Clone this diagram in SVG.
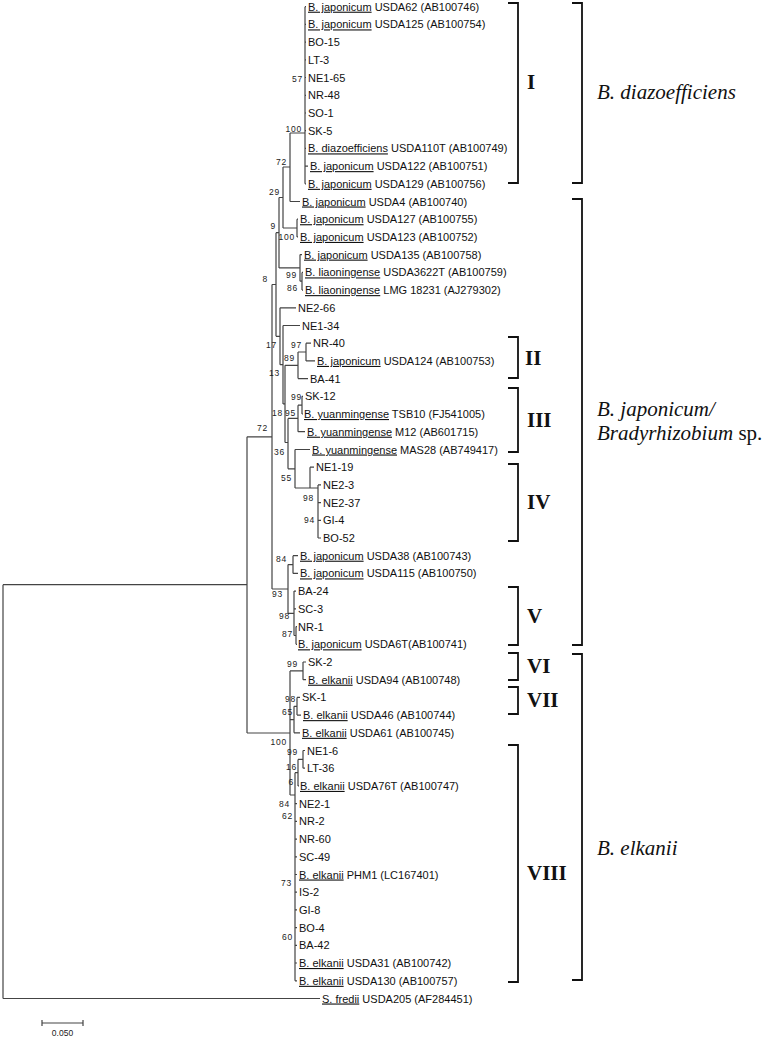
<svg xmlns="http://www.w3.org/2000/svg" width="767" height="1038" viewBox="0 0 767 1038">
<style>
.leaf{font-family:"Liberation Sans",Arial,sans-serif;font-size:11px;fill:#111}
.u{text-decoration:underline}
.bs{font-family:"Liberation Sans",Arial,sans-serif;font-size:8.5px;fill:#222;text-anchor:end;letter-spacing:0.8px}
.tree{fill:none;stroke:#444;stroke-width:1.2}
.br{fill:none;stroke:#111;stroke-width:1.8}
.rn{font-family:"Liberation Serif","Times New Roman",serif;font-size:21px;font-weight:bold;fill:#111}
.sp{font-family:"Liberation Serif","Times New Roman",serif;font-size:21px;fill:#111}
.sc{font-family:"Liberation Sans",Arial,sans-serif;font-size:8.5px;fill:#222;text-anchor:middle}
</style>
<rect width="767" height="1038" fill="#fff"/>
<g id="connectors">
<path class="tree" d="M3 584.7V998.5M3 584.7H247M3 998.5H320
M247 436.8V733M247 436.8H272M247 733H290
M272 284.5V589M272 284.5H276M272 589H288
M276 232.7V336.3M276 232.7H279M276 336.3H280
M279 197.5V267.9M279 197.5H283M279 267.9H300
M283 167V228M283 167H290M283 228H297
M290 133V201.5M290 133H305M290 201.5H300
M305 6.7V183.8M305 6.7H306M305 24.4H306M305 42.1H306M305 59.8H306M305 77.5H306M305 95.3H306M305 113H306M305 130.7H306M305 148.4H306M305 166.1H308M305 183.8H306
M297 219.2V236.9M297 219.2H298M297 236.9H298
M300 254.6V281.2M300 254.6H302M300 281.2H302M302 272.4V290.1M302 272.4H303M302 290.1H303
M280 307.8V364.7M280 307.8H296M280 364.7H283
M283 325.5V403.9M283 325.5H300M283 403.9H285
M285 365.3V442.5M285 365.3H298M285 442.5H288
M298 352V378.6M298 352H306M298 378.6H308
M306 343.2V360.9M306 343.2H311M306 360.9H315
M288 418.4V468.8M288 418.4H298M288 468.8H295
M298 405.2V431.7M298 405.2H302M298 431.7H305
M302 396.3V414M302 396.3H303M302 414H303
M295 449.5V488M295 449.5H310M295 488H318
M310 467.2V488M310 467.2H314
M318 484.9V538M318 484.9H321M318 502.6H321M318 520.3H321M318 538H321
M288 564.6V613.3M288 564.6H293M288 613.3H294
M293 555.7V573.4M293 555.7H298M293 573.4H298
M294 591.1V635.5M294 591.1H296M294 608.8H296M294 635.5H296
M296 626.6V644.3M296 626.6H297M296 644.3H297
M290 670.9V795M290 670.9H303M290 719.6H294M290 795H295
M303 662V679.7M303 662H306M303 679.7H306
M294 706.3V732.8M294 706.3H297M294 732.8H300
M297 697.4V715.1M297 697.4H300M297 715.1H301
M295 772.7V980.8M295 772.7H298M295 803.7H297M295 821.4H297M295 839.1H297M295 856.8H297M295 874.5H297M295 892.2H297M295 909.9H297M295 927.6H297M295 945.3H297M295 963H297M295 980.8H297
M298 759.4V785.9M298 759.4H303M298 785.9H299
M303 750.5V768.2M303 750.5H305M303 768.2H305"/>
</g>
<g id="bootstrap">
<text class="bs" x="303" y="82">57</text>
<text class="bs" x="302" y="132">100</text>
<text class="bs" x="287" y="165">72</text>
<text class="bs" x="280" y="195">29</text>
<text class="bs" x="276" y="229">9</text>
<text class="bs" x="295" y="240">100</text>
<text class="bs" x="297" y="278">99</text>
<text class="bs" x="298" y="291">86</text>
<text class="bs" x="268" y="282">8</text>
<text class="bs" x="277" y="348">17</text>
<text class="bs" x="302" y="348">97</text>
<text class="bs" x="295" y="361">89</text>
<text class="bs" x="280" y="376">13</text>
<text class="bs" x="302" y="400">99</text>
<text class="bs" x="283" y="416">18</text>
<text class="bs" x="296" y="416">95</text>
<text class="bs" x="268" y="431">72</text>
<text class="bs" x="285" y="455">36</text>
<text class="bs" x="292" y="481">55</text>
<text class="bs" x="314" y="501">98</text>
<text class="bs" x="315" y="523">94</text>
<text class="bs" x="287" y="562">84</text>
<text class="bs" x="283" y="597">93</text>
<text class="bs" x="290" y="619">98</text>
<text class="bs" x="293" y="637">87</text>
<text class="bs" x="298" y="667">99</text>
<text class="bs" x="296" y="702">98</text>
<text class="bs" x="293" y="715">65</text>
<text class="bs" x="287" y="745">100</text>
<text class="bs" x="298" y="755">99</text>
<text class="bs" x="297" y="770">16</text>
<text class="bs" x="294" y="785">6</text>
<text class="bs" x="290" y="807">84</text>
<text class="bs" x="293" y="819">62</text>
<text class="bs" x="292" y="886">73</text>
<text class="bs" x="293" y="940">60</text>
</g>
<g id="leaves">
<g id="n-USDA62"><text class="leaf" x="308" y="10.7"><tspan class="u">B. japonicum</tspan> USDA62 (AB100746)</text></g>
<g id="n-USDA125"><text class="leaf" x="308" y="28.4"><tspan class="u">B. japonicum</tspan> USDA125 (AB100754)</text></g>
<g id="n-BO-15"><text class="leaf" x="308" y="46.1">BO-15</text></g>
<g id="n-LT-3"><text class="leaf" x="308" y="63.8">LT-3</text></g>
<g id="n-NE1-65"><text class="leaf" x="308" y="81.5">NE1-65</text></g>
<g id="n-NR-48"><text class="leaf" x="308" y="99.3">NR-48</text></g>
<g id="n-SO-1"><text class="leaf" x="308" y="117">SO-1</text></g>
<g id="n-SK-5"><text class="leaf" x="308" y="134.7">SK-5</text></g>
<g id="n-USDA110T"><text class="leaf" x="308" y="152.4"><tspan class="u">B. diazoefficiens</tspan> USDA110T (AB100749)</text></g>
<g id="n-USDA122"><text class="leaf" x="310" y="170.1"><tspan class="u">B. japonicum</tspan> USDA122 (AB100751)</text></g>
<g id="n-USDA129"><text class="leaf" x="308" y="187.8"><tspan class="u">B. japonicum</tspan> USDA129 (AB100756)</text></g>
<g id="n-USDA4"><text class="leaf" x="302" y="205.5"><tspan class="u">B. japonicum</tspan> USDA4 (AB100740)</text></g>
<g id="n-USDA127"><text class="leaf" x="300" y="223.2"><tspan class="u">B. japonicum</tspan> USDA127 (AB100755)</text></g>
<g id="n-USDA123"><text class="leaf" x="300" y="240.9"><tspan class="u">B. japonicum</tspan> USDA123 (AB100752)</text></g>
<g id="n-USDA135"><text class="leaf" x="304" y="258.6"><tspan class="u">B. japonicum</tspan> USDA135 (AB100758)</text></g>
<g id="n-USDA3622T"><text class="leaf" x="305" y="276.4"><tspan class="u">B. liaoningense</tspan> USDA3622T (AB100759)</text></g>
<g id="n-LMG18231"><text class="leaf" x="305" y="294.1"><tspan class="u">B. liaoningense</tspan> LMG 18231 (AJ279302)</text></g>
<g id="n-NE2-66"><text class="leaf" x="298" y="311.8">NE2-66</text></g>
<g id="n-NE1-34"><text class="leaf" x="302" y="329.5">NE1-34</text></g>
<g id="n-NR-40"><text class="leaf" x="313" y="347.2">NR-40</text></g>
<g id="n-USDA124"><text class="leaf" x="317" y="364.9"><tspan class="u">B. japonicum</tspan> USDA124 (AB100753)</text></g>
<g id="n-BA-41"><text class="leaf" x="310" y="382.6">BA-41</text></g>
<g id="n-SK-12"><text class="leaf" x="305" y="400.3">SK-12</text></g>
<g id="n-TSB10"><text class="leaf" x="304" y="418"><tspan class="u">B. yuanmingense</tspan> TSB10 (FJ541005)</text></g>
<g id="n-M12"><text class="leaf" x="307" y="435.7"><tspan class="u">B. yuanmingense</tspan> M12 (AB601715)</text></g>
<g id="n-MAS28"><text class="leaf" x="312" y="453.5"><tspan class="u">B. yuanmingense</tspan> MAS28 (AB749417)</text></g>
<g id="n-NE1-19"><text class="leaf" x="316" y="471.2">NE1-19</text></g>
<g id="n-NE2-3"><text class="leaf" x="323" y="488.9">NE2-3</text></g>
<g id="n-NE2-37"><text class="leaf" x="323" y="506.6">NE2-37</text></g>
<g id="n-GI-4"><text class="leaf" x="323" y="524.3">GI-4</text></g>
<g id="n-BO-52"><text class="leaf" x="323" y="542">BO-52</text></g>
<g id="n-USDA38"><text class="leaf" x="300" y="559.7"><tspan class="u">B. japonicum</tspan> USDA38 (AB100743)</text></g>
<g id="n-USDA115"><text class="leaf" x="300" y="577.4"><tspan class="u">B. japonicum</tspan> USDA115 (AB100750)</text></g>
<g id="n-BA-24"><text class="leaf" x="298" y="595.1">BA-24</text></g>
<g id="n-SC-3"><text class="leaf" x="298" y="612.8">SC-3</text></g>
<g id="n-NR-1"><text class="leaf" x="298" y="630.6">NR-1</text></g>
<g id="n-USDA6T"><text class="leaf" x="298" y="648.3"><tspan class="u">B. japonicum</tspan> USDA6T(AB100741)</text></g>
<g id="n-SK-2"><text class="leaf" x="308" y="666">SK-2</text></g>
<g id="n-USDA94"><text class="leaf" x="308" y="683.7"><tspan class="u">B. elkanii</tspan> USDA94 (AB100748)</text></g>
<g id="n-SK-1"><text class="leaf" x="302" y="701.4">SK-1</text></g>
<g id="n-USDA46"><text class="leaf" x="303" y="719.1"><tspan class="u">B. elkanii</tspan> USDA46 (AB100744)</text></g>
<g id="n-USDA61"><text class="leaf" x="302" y="736.8"><tspan class="u">B. elkanii</tspan> USDA61 (AB100745)</text></g>
<g id="n-NE1-6"><text class="leaf" x="307" y="754.5">NE1-6</text></g>
<g id="n-LT-36"><text class="leaf" x="307" y="772.2">LT-36</text></g>
<g id="n-USDA76T"><text class="leaf" x="300" y="789.9"><tspan class="u">B. elkanii</tspan> USDA76T (AB100747)</text></g>
<g id="n-NE2-1"><text class="leaf" x="299" y="807.7">NE2-1</text></g>
<g id="n-NR-2"><text class="leaf" x="299" y="825.4">NR-2</text></g>
<g id="n-NR-60"><text class="leaf" x="299" y="843.1">NR-60</text></g>
<g id="n-SC-49"><text class="leaf" x="299" y="860.8">SC-49</text></g>
<g id="n-PHM1"><text class="leaf" x="299" y="878.5"><tspan class="u">B. elkanii</tspan> PHM1 (LC167401)</text></g>
<g id="n-IS-2"><text class="leaf" x="299" y="896.2">IS-2</text></g>
<g id="n-GI-8"><text class="leaf" x="299" y="913.9">GI-8</text></g>
<g id="n-BO-4"><text class="leaf" x="299" y="931.6">BO-4</text></g>
<g id="n-BA-42"><text class="leaf" x="299" y="949.3">BA-42</text></g>
<g id="n-USDA31"><text class="leaf" x="299" y="967"><tspan class="u">B. elkanii</tspan> USDA31 (AB100742)</text></g>
<g id="n-USDA130"><text class="leaf" x="299" y="984.8"><tspan class="u">B. elkanii</tspan> USDA130 (AB100757)</text></g>
<g id="n-USDA205"><text class="leaf" x="322" y="1002.5"><tspan class="u">S. fredii</tspan> USDA205 (AF284451)</text></g>
</g>
<g id="groups">
<path class="br" d="M508 3H518V183H508M508 337H518V378H508M508 388H518V452H508M508 464H518V541H508M508 587H518V645H508M508 653H518V680H508M508 687H518V714H508M508 745H518V982H508"/>
<path class="br" d="M572 3H582V183H572M572 199H582V645H572M572 654H582V980H572"/>
<text class="rn" x="527" y="89">I</text>
<text class="rn" x="525" y="365">II</text>
<text class="rn" x="527" y="427">III</text>
<text class="rn" x="527" y="509">IV</text>
<text class="rn" x="527" y="623">V</text>
<text class="rn" x="527" y="673">VI</text>
<text class="rn" x="527" y="707">VII</text>
<text class="rn" x="527" y="880">VIII</text>
<text class="sp" x="597" y="99" font-style="italic">B. diazoefficiens</text>
<text class="sp" x="597" y="416" font-style="italic">B. japonicum/</text>
<text class="sp" x="597" y="440"><tspan font-style="italic">Bradyrhizobium</tspan> sp.</text>
<text class="sp" x="597" y="855" font-style="italic">B. elkanii</text>
</g>
<g id="scale">
<path class="tree" d="M42 1023H83M42 1020V1026M83 1020V1026"/>
<text class="sc" x="62.5" y="1036">0.050</text>
</g>
</svg>
